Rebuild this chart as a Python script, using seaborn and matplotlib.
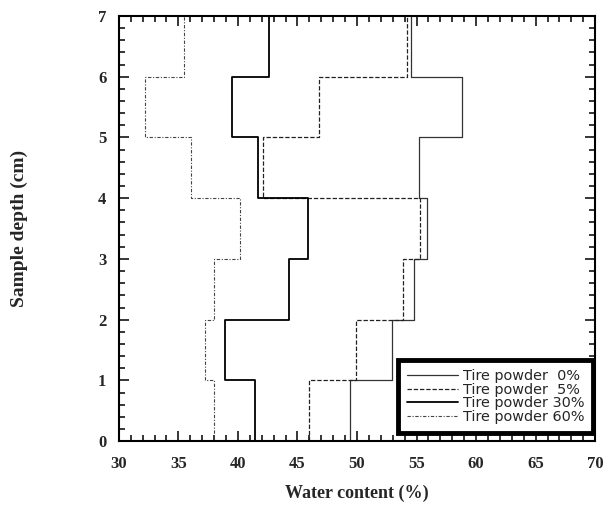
import numpy as np
import pandas as pd
import seaborn as sns
import matplotlib
matplotlib.use("Agg")
import matplotlib.pyplot as plt
from matplotlib.ticker import MultipleLocator

# Water content (%) measured in each 1 cm depth slice, from 0-1 cm up to 6-7 cm
depth_edges = [0, 1, 2, 3, 4, 5, 6, 7]
wc_0 = [49.4, 52.9, 54.8, 55.9, 55.2, 58.8, 54.5]
wc_5 = [46.0, 49.9, 53.9, 55.3, 42.1, 46.8, 54.2]
wc_30 = [41.4, 38.9, 44.3, 45.9, 41.7, 39.5, 42.6]
wc_60 = [38.0, 37.2, 38.0, 40.2, 36.1, 32.2, 35.5]
labels = ["Tire powder  0%", "Tire powder  5%", "Tire powder 30%", "Tire powder 60%"]


def step_profile(values, edges):
    xs, ys = [], []
    for i, v in enumerate(values):
        xs += [v, v]
        ys += [edges[i], edges[i + 1]]
    return pd.DataFrame({"water": xs, "depth": ys})


sns.set_style("white")
plt.rcParams["font.family"] = ["Liberation Serif", "DejaVu Serif"]

fig = plt.figure(figsize=(6.03, 5.13), dpi=100)
ax = fig.add_axes([0.197, 0.140, 0.790, 0.829])

styles = [
    dict(color="#333333", linewidth=0.9, linestyle="-"),
    dict(color="#222222", linewidth=0.9, linestyle=(0, (3.5, 1.5))),
    dict(color="#000000", linewidth=1.3, linestyle="-"),
    dict(color="#444444", linewidth=0.8, linestyle=(0, (3, 1.5, 1, 1.5))),
]

for vals, lab, st in zip([wc_0, wc_5, wc_30, wc_60], labels, styles):
    df = step_profile(vals, depth_edges)
    sns.lineplot(data=df, x="water", y="depth", sort=False, estimator=None,
                 ax=ax, label=lab, **st)

ax.set_xlim(30, 70)
ax.set_ylim(0, 7)
ax.xaxis.set_major_locator(MultipleLocator(5))
ax.xaxis.set_minor_locator(MultipleLocator(1))
ax.yaxis.set_major_locator(MultipleLocator(1))
ax.yaxis.set_minor_locator(MultipleLocator(0.2))
ax.tick_params(which="both", direction="in", top=True, right=True,
               bottom=True, left=True, width=1.1, color="black")
ax.tick_params(which="major", length=7, labelsize=12)
ax.tick_params(axis="x", which="major", pad=11)
ax.tick_params(axis="y", which="major", pad=9)
ax.tick_params(which="minor", length=4.5)
for lbl in ax.get_xticklabels() + ax.get_yticklabels():
    lbl.set_fontweight("bold")
for sp in ax.spines.values():
    sp.set_visible(True)
    sp.set_color("black")
    sp.set_linewidth(1.5)

ax.set_xlabel("Water content (%)", fontsize=13, fontweight="bold", labelpad=9)
ax.set_ylabel("Sample depth (cm)", fontsize=14, fontweight="bold", labelpad=50)

leg = ax.legend(loc="lower right", bbox_to_anchor=(0.995, 0.02),
                prop={"family": "DejaVu Sans", "size": 10.4},
                frameon=True, fancybox=False, framealpha=1,
                edgecolor="black", borderpad=0.6, labelspacing=-0.02,
                handlelength=3.5, handletextpad=0.35, borderaxespad=0)
leg.get_frame().set_linewidth(3.5)

fig.savefig("out.png", dpi=100)
